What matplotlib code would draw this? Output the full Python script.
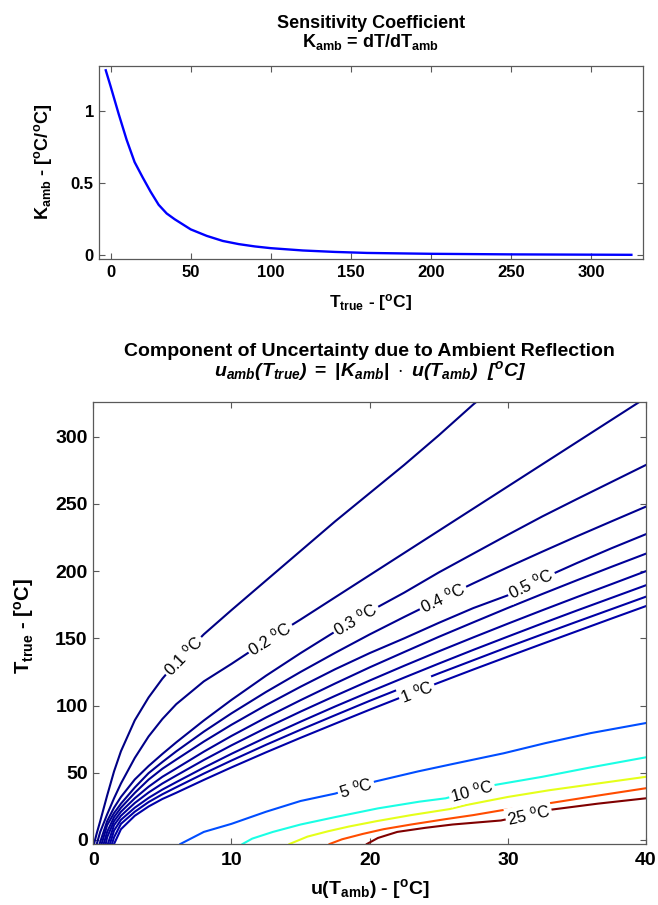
import numpy as np
import matplotlib
matplotlib.use('Agg')
from matplotlib import pyplot as plt

plt.rcParams['font.family'] = ['Liberation Sans', 'DejaVu Sans']
plt.rcParams['mathtext.fontset'] = 'custom'
plt.rcParams['mathtext.rm'] = 'Liberation Sans'
plt.rcParams['mathtext.it'] = 'Liberation Sans:italic'
plt.rcParams['mathtext.bf'] = 'Liberation Sans:bold'
plt.rcParams['mathtext.bfit'] = 'Liberation Sans:italic:bold'

# sensitivity coefficient
T_K = [-3, 0, 5, 10, 15, 20, 25, 30, 35, 40, 50, 60, 70, 80, 90, 100,
       120, 140, 160, 200, 250, 300, 325]
K_AMB = [1.28, 1.17, 0.98, 0.80, 0.645, 0.54, 0.44, 0.35, 0.29, 0.25, 0.18,
         0.135, 0.10, 0.078, 0.062, 0.05, 0.034, 0.024, 0.017, 0.011, 0.007,
         0.005, 0.004]

# contour lines 0.1 .. 1 degC, T_true on a common u(T_amb) grid
nan = np.nan
U_GRID = [0.25, 0.5, 1, 1.5, 2, 3, 4, 5, 6, 8, 10, 12.5, 15, 17.5, 20, 22.5,
          25, 27.5, 30, 32.5, 35, 37.5, 40]
LEVELS_LOW = [0.1, 0.2, 0.3, 0.4, 0.5, 0.6, 0.7, 0.8, 0.9, 1.0]
U_START_LOW = [0.05, 0.25, 0.45, 0.6, 0.75, 0.9, 1.05, 1.2, 1.35, 1.5]
T_01 = [5, 14, 33, 51, 66, 89, 106, 120, 132, 153, 171, 193, 215, 237, 258,
        279, 301, 324, 345, nan, nan, nan, nan]
T_02 = [nan, 6, 19, 31, 42, 61, 77, 90, 101, 118, 131, 148, 164, 180.5, 197,
        213.5, 230, 246.5, 263, 279.5, 296, 312.5, 329]
T_03 = [nan, nan, 14, 24, 32, 45, 55, 64, 72.6, 88.9, 104.2, 122.2, 139, 155,
        170, 184, 199, 213, 227, 240.7, 253.6, 266.3, 279]
T_04 = [nan, nan, 11, 20, 27, 39, 49.7, 58, 65.9, 80.6, 94.2, 110.1, 125,
        139.2, 152.9, 165.9, 178.6, 190.9, 202.9, 214.5, 225.9, 237, 248]
T_05 = [nan, nan, 6, 17, 24, 35, 44.9, 53, 59.8, 73.2, 85.7, 100.3, 114, 127,
        139, 150, 161.5, 172.5, 182, 194.5, 206, 217, 227.5]
T_06 = [nan, nan, 2, 14, 21, 31, 39.6, 47, 53.2, 65.7, 77.4, 91.1, 104, 116.4,
        128.4, 139.8, 151.1, 161.9, 172.6, 183, 193.2, 203.2, 213]
T_07 = [nan, nan, nan, 11, 18, 27.5, 35.3, 42, 47.9, 59.5, 70.4, 83.3, 95.5,
        107.2, 118.6, 129.6, 140.3, 150.7, 160.9, 170.9, 180.7, 190.3, 200]
T_08 = [nan, nan, nan, 7, 15, 24, 31.3, 37.5, 43, 53.8, 64.1, 76.3, 88, 99.3,
        110.2, 120.8, 131.2, 141.4, 151.3, 161.1, 170.7, 180.1, 189.5]
T_09 = [nan, nan, nan, 2, 12, 21, 28.2, 34, 39.2, 49.4, 59.1, 70.8, 82, 92.8,
        103.5, 113.7, 123.9, 133.7, 143.5, 153, 162.4, 171.7, 181]
T_10 = [nan, nan, nan, nan, 8, 18, 24.9, 30.5, 35.1, 44.7, 54, 65.2, 76, 86.5,
        96.9, 107, 117, 126.8, 136.4, 145.9, 155.3, 164.7, 174]
T_LOW = [T_01, T_02, T_03, T_04, T_05, T_06, T_07, T_08, T_09, T_10]

# contour lines 5 .. 25 degC
U_5 = [6.3, 8, 10, 12.5, 15, 17.5, 20.4, 23.5, 26, 29.7, 32.7, 36, 40]
T_5 = [-3, 6, 12, 21, 29, 34.5, 43.5, 51, 56.5, 64.5, 72, 79.5, 87]
U_10 = [10.8, 11.5, 13, 15, 17.5, 20.6, 23.6, 25.5, 29.1, 32.5, 36, 40]
T_10H = [-3, 1, 6, 11.5, 17, 23.5, 28.5, 31, 41, 47, 54, 61.5]
U_15 = [14.2, 15.5, 17, 18.5, 20.5, 23, 25.8, 27, 30, 33, 36.5, 40]
T_15 = [-3, 2.5, 6.5, 10, 14, 18.5, 23, 26, 32, 37, 42, 47]
U_20 = [17.1, 18, 19.5, 21, 23, 25.5, 27.5, 29.5, 33.1, 36.5, 40]
T_20 = [-3, 0.5, 4.5, 8, 11.5, 15.5, 18.5, 22, 27.5, 33, 38.5]
U_25 = [19.8, 20.6, 22, 24, 26, 29.5, 33.1, 36.5, 40]
T_25 = [-3, 1.5, 6, 9, 11.5, 14.5, 22.5, 27, 31]
LEVELS_HIGH = [5, 10, 15, 20, 25]

# inline labels: level index -> u position of the label
LABELS_LOW = {0: 6.5, 1: 12.8, 2: 19.0, 3: 25.3, 4: 31.7, 9: 23.4}
LABELS_HIGH = {0: 19.0, 1: 27.4, 4: 31.5}


def mjet(x):
    r = np.clip(1.5 - abs(4 * x - 3), 0, 1)
    g = np.clip(1.5 - abs(4 * x - 2), 0, 1)
    b = np.clip(1.5 - abs(4 * x - 1), 0, 1)
    return (r, g, b)


def lvl_text(v):
    s = '%g' % v
    return s + r' $^{\mathrm{o}}$C'


def put_label(ax, txt, u, uu, tt):
    t = np.interp(u, uu, tt)
    p1 = ax.transData.transform((u - 0.6, np.interp(u - 0.6, uu, tt)))
    p2 = ax.transData.transform((u + 0.6, np.interp(u + 0.6, uu, tt)))
    ang = np.degrees(np.arctan2(p2[1] - p1[1], p2[0] - p1[0]))
    ax.text(u, t, txt, rotation=ang, rotation_mode='anchor', ha='center',
            va='center', fontsize=12, zorder=5,
            bbox=dict(boxstyle='square,pad=0.1', fc='white', ec='none'))


def style_axes(ax, size):
    for sp in ax.spines.values():
        sp.set_color('0.35')
        sp.set_linewidth(0.9)
    ax.tick_params(direction='in', top=True, right=True, length=4,
                   width=0.8, color='0.35', labelsize=size, pad=4)
    for lab in ax.get_xticklabels() + ax.get_yticklabels():
        lab.set_fontweight('bold')


fig = plt.figure(figsize=(6.58, 9.05), dpi=100)

# ---- upper panel
ax1 = fig.add_axes([0.151, 0.7138, 0.8256, 0.2133])
ax1.plot(T_K, K_AMB, color=(0, 0, 1), lw=1.7)
ax1.set_xlim(-7, 332)
ax1.set_ylim(-0.025, 1.31)
ax1.set_xticks(np.arange(0, 301, 50))
ax1.set_yticks([0, 0.5, 1])
ax1.set_yticklabels(['0', '0.5', '1'])
style_axes(ax1, 12)
fig.text(0.5635, 1 - 28 / 905, 'Sensitivity Coefficient', ha='center',
         va='baseline', fontsize=13, fontweight='bold')
fig.text(0.5635, 1 - 47 / 905, r'$\mathbf{K}_{\mathbf{amb}}$ = dT/dT$_{\mathbf{amb}}$',
         ha='center', va='baseline', fontsize=13, fontweight='bold')
fig.text(0.5635, 1 - 307 / 905, r'T$_{\mathbf{true}}$ - [$^{\mathbf{o}}$C]',
         ha='center', va='baseline', fontsize=12.5, fontweight='bold')
fig.text(0.066, 1 - 162 / 905, r'$\mathbf{K}_{\mathbf{amb}}$ - [$^{\mathbf{o}}$C/$^{\mathbf{o}}$C]',
         ha='center', va='center', rotation=90, fontsize=13, fontweight='bold')

# ---- lower panel
ax2 = fig.add_axes([0.1418, 0.0674, 0.840, 0.4887])
ax2.set_xlim(0, 40)
ax2.set_ylim(-3, 326)
ax2.set_xticks(np.arange(0, 41, 10))
ax2.set_yticks(np.arange(0, 301, 50))

low_lines = []
for lev, u0, tv in zip(LEVELS_LOW, U_START_LOW, T_LOW):
    uu = [u0] + [u for u, t in zip(U_GRID, tv) if u > u0 and not np.isnan(t)]
    tt = [-3] + [t for u, t in zip(U_GRID, tv) if u > u0 and not np.isnan(t)]
    ax2.plot(uu, tt, color=mjet(lev / 25), lw=1.5, zorder=2)
    low_lines.append((uu, tt))

high_lines = [(U_5, T_5), (U_10, T_10H), (U_15, T_15), (U_20, T_20), (U_25, T_25)]
for lev, (uu, tt) in zip(LEVELS_HIGH, high_lines):
    ax2.plot(uu, tt, color=mjet(lev / 25), lw=1.5, zorder=2)

for i, u in LABELS_LOW.items():
    put_label(ax2, lvl_text(LEVELS_LOW[i]), u, *low_lines[i])
for i, u in LABELS_HIGH.items():
    put_label(ax2, lvl_text(LEVELS_HIGH[i]), u, *high_lines[i])

style_axes(ax2, 14)
ax2.tick_params(axis='x', pad=6)
fig.text(0.562, 1 - 356 / 905, 'Component of Uncertainty due to Ambient Reflection',
         ha='center', va='baseline', fontsize=14, fontweight='bold')
title2 = (r'$\mathbfit{u}_{\mathbfit{amb}}\mathbfit{(T}_{\mathbfit{true}}\mathbfit{)}'
          r'\ \mathbf{=}\ \mathbf{|}\mathbfit{K}_{\mathbfit{amb}}\mathbf{|}\ \cdot\ '
          r'\mathbfit{u(T}_{\mathbfit{amb}}\mathbfit{)}\ \ \mathbfit{[}^{\mathbfit{o}}\mathbfit{C]}$')
fig.text(0.562, 1 - 376 / 905, title2, ha='center', va='baseline', fontsize=14)
fig.text(0.562, 1 - 894 / 905, r'u(T$_{\mathbf{amb}}$) - [$^{\mathbf{o}}$C]',
         ha='center', va='baseline', fontsize=14, fontweight='bold')
fig.text(0.037, 1 - 626 / 905, r'T$_{\mathbf{true}}$ - [$^{\mathbf{o}}$C]',
         ha='center', va='center', rotation=90, fontsize=14.5, fontweight='bold')

fig.savefig('out.png', dpi=100)
